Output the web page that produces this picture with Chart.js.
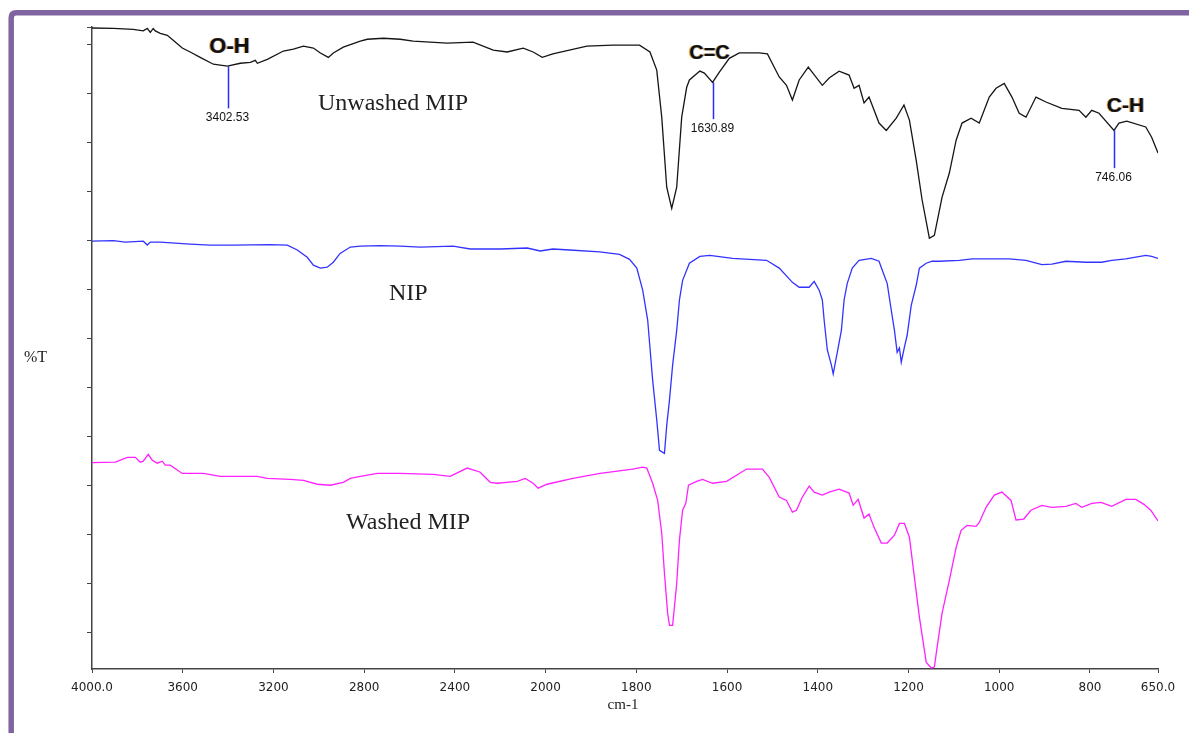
<!DOCTYPE html>
<html>
<head>
<meta charset="utf-8">
<script src="https://cdn.jsdelivr.net/npm/chart.js@4.4.1/dist/chart.umd.min.js"></script>
<style>
  html,body{margin:0;padding:0;background:#fff;}
  #wrap{width:1189px;height:733px;position:relative;}
</style>
</head>
<body>
<div id="wrap"><canvas id="c" width="1189" height="733"></canvas></div>
<script>
// ---------- DATA ----------
const xTicks = [4000, 3600, 3200, 2800, 2400, 2000, 1800, 1600, 1400, 1200, 1000, 800, 650];
const yTicks = [10, 20, 30, 40, 50, 60, 70, 80, 90, 100, 110, 120, 130, 133.5];

const seriesNames = ['Unwashed MIP', 'NIP', 'Washed MIP'];

const unwashedWn = [4000,3906,3818,3774,3756,3743,3730,3721,3699,3668,3642,3602,3567,3523,3465,3403,3346,3302,3280,3271,3227,3156,3112,3068,3024,2993,2958,2936,2892,2817,2786,2716,2641,2584,2434,2320,2231,2170,2099,2055,2015,1984,1909,1852,1793,1770,1755,1744,1733,1722,1711,1700,1689,1683,1660,1650,1632,1617,1595,1573,1529,1511,1496,1485,1469,1456,1441,1421,1390,1375,1353,1331,1320,1309,1298,1287,1265,1249,1227,1210,1198,1183,1170,1154,1143,1126,1110,1095,1082,1062,1044,1022,1007,989,972,956,941,919,897,862,824,809,796,780,747,736,719,677,664,650];
const unwashedT = [133.3,133.2,133.0,132.7,133.2,132.4,133.2,132.7,132.2,131.8,130.8,129.2,128.4,127.3,125.9,125.5,126.1,126.3,126.7,126.1,126.9,128.6,129.0,129.6,129.2,128.2,127.3,128.2,129.4,130.6,131.0,131.2,131.0,130.6,130.2,130.4,128.8,128.4,129.2,128.4,127.3,128.0,129.6,129.8,129.8,128.4,124.7,115.1,100.8,96.5,100.8,115.1,121.2,122.7,124.5,124.1,122.2,124.3,127.1,128.2,128.2,128.0,125.3,123.3,121.6,118.6,122.7,125.3,121.6,123.1,124.5,123.7,121.0,121.6,118.0,119.2,113.9,112.4,114.9,117.6,114.5,106.3,98.2,90.4,91.0,98.8,103.7,110.4,113.9,114.9,113.9,119.2,121.0,122.0,119.2,115.9,115.1,119.2,118.2,116.9,116.5,115.1,116.5,115.9,112.4,113.9,114.3,113.1,111.0,107.8];

const nipWn = [4000,3906,3853,3774,3756,3743,3699,3567,3479,3377,3214,3139,3095,3051,3024,2993,2963,2936,2906,2861,2817,2729,2641,2553,2408,2332,2200,2081,2024,1984,1947,1881,1837,1815,1799,1786,1775,1764,1755,1749,1738,1733,1727,1720,1711,1705,1698,1683,1660,1638,1588,1513,1485,1456,1441,1419,1408,1397,1390,1386,1379,1370,1366,1357,1348,1342,1335,1324,1309,1282,1265,1254,1247,1238,1231,1227,1225,1220,1216,1209,1203,1194,1183,1176,1161,1148,1132,1088,1060,978,941,906,884,853,809,774,752,721,677,664,650];
const nipT = [89.8,89.9,89.6,89.8,89.0,89.6,89.6,89.2,89.0,89.0,89.1,89.0,88.0,86.5,84.9,84.3,84.5,85.5,87.3,88.6,88.8,88.9,88.8,88.6,88.8,88.2,88.2,88.4,87.8,88.2,88.0,87.6,87.1,86.1,84.3,79.8,73.7,61.4,53.3,47.1,46.5,52.2,57.3,64.5,71.6,77.8,81.8,85.3,86.7,86.9,86.3,85.9,84.3,81.4,80.4,80.4,81.6,79.8,77.8,73.7,67.6,64.5,62.7,67.1,71.6,77.8,81.2,84.3,85.9,86.3,85.7,82.9,81.2,75.7,71.6,68.6,67.1,68.0,65.1,68.2,70.6,76.7,80.8,84.3,85.3,85.7,85.7,85.9,86.2,86.2,85.9,85.0,85.1,85.7,85.5,85.5,85.9,86.2,86.9,86.7,86.3];

const washedWn = [4000,3897,3844,3809,3787,3774,3752,3734,3712,3690,3677,3655,3624,3602,3509,3434,3346,3271,3227,3126,3068,3007,2949,2892,2861,2817,2742,2641,2496,2421,2346,2290,2244,2213,2125,2090,2055,2033,1997,1940,1880,1808,1786,1777,1764,1753,1744,1738,1731,1727,1720,1711,1705,1698,1691,1685,1667,1654,1632,1601,1557,1522,1507,1485,1469,1456,1447,1434,1419,1408,1390,1375,1353,1331,1322,1311,1298,1287,1276,1260,1247,1231,1220,1209,1198,1187,1176,1161,1150,1143,1137,1126,1110,1095,1084,1071,1051,1044,1029,1011,994,974,963,946,930,906,884,853,831,818,796,776,752,721,699,681,666,650];
const washedT = [44.6,44.7,45.7,45.7,44.7,44.9,46.3,45.1,44.5,44.9,44.1,44.1,43.1,42.4,42.4,41.8,41.8,41.8,41.4,41.2,41.0,40.2,40.0,40.6,41.4,41.8,42.4,42.4,42.2,41.8,43.5,42.7,40.6,40.4,40.8,41.4,40.4,39.4,40.2,41.4,42.4,43.3,43.7,43.5,40.4,36.9,30.2,22.0,13.9,11.4,11.4,20.0,28.8,34.9,36.3,40.0,40.8,41.2,40.4,40.8,43.3,43.3,41.6,37.6,36.9,34.5,34.9,37.6,39.8,38.6,38.0,38.6,39.2,38.4,35.9,37.1,33.3,34.1,31.4,28.2,28.2,29.8,32.2,32.2,29.4,21.2,13.1,3.9,2.7,2.9,6.9,13.9,20.6,27.3,30.8,31.8,31.6,32.4,35.5,38.0,38.6,36.9,32.9,33.1,34.9,35.9,35.5,35.7,36.3,35.5,36.3,36.5,35.7,37.1,37.1,36.1,34.9,32.7];

// marked peaks on the Unwashed MIP trace
const peakWn = [3402.53, 1630.89, 746.06];
const peakLabels = ['3402.53', '1630.89', '746.06'];
const peakGroups = ['O-H', 'C=C', 'C-H'];
const peakTop = [125.5, 122.2, 112.4];
const peakBottom = [116.9, 114.7, 104.7];

// ---------- piecewise x scale (expanded below 2000 cm-1, like FTIR software) ----------
class BreakScale extends Chart.LinearScale {
  _f(v) { return v > 2000 ? 2000 + (v - 2000) / 2 : v; }
  _fi(u) { return u > 2000 ? 2000 + (u - 2000) * 2 : u; }
  getPixelForValue(v) {
    if (v === null || v === undefined || isNaN(v)) return NaN;
    const a = this._f(this.min), b = this._f(this.max);
    return this.getPixelForDecimal((this._f(v) - a) / (b - a));
  }
  getValueForPixel(p) {
    const a = this._f(this.min), b = this._f(this.max);
    return this._fi(a + this.getDecimalForPixel(p) * (b - a));
  }
}
BreakScale.id = 'breaklinear';
BreakScale.defaults = Chart.LinearScale.defaults;
Chart.register(BreakScale);

function pts(xs, ys) { return xs.map((x, i) => ({ x: x, y: ys[i] })); }

const frame = {
  id: 'frame',
  beforeDraw(chart) {
    const ctx = chart.ctx;
    ctx.save();
    ctx.fillStyle = '#ffffff';
    ctx.fillRect(0, 0, chart.width, chart.height);
    ctx.strokeStyle = '#8064A2';
    ctx.lineWidth = 5.5;
    ctx.beginPath();
    const x0 = 11.2, y0 = 12.8, r = 5;
    ctx.moveTo(x0, chart.height + 10);
    ctx.lineTo(x0, y0 + r);
    ctx.quadraticCurveTo(x0, y0, x0 + r, y0);
    ctx.lineTo(chart.width + 10, y0);
    ctx.stroke();
    ctx.restore();
  }
};

const labels = {
  id: 'labels',
  afterDatasetsDraw(chart) {
    const ctx = chart.ctx, xs = chart.scales.x, ys = chart.scales.y;
    ctx.save();
    // axis titles
    ctx.fillStyle = '#222';
    ctx.font = '16px "Liberation Serif"';
    ctx.textAlign = 'left';
    ctx.textBaseline = 'alphabetic';
    ctx.fillText('%T', 24, 362);
    ctx.font = '15px "Liberation Serif"';
    ctx.textAlign = 'center';
    ctx.fillText('cm-1', 623, 709);
    // series names
    ctx.font = '24px "Liberation Serif"';
    ctx.textAlign = 'left';
    const namePos = [[318, 110], [389, 300], [346, 529]];
    seriesNames.forEach((n, i) => ctx.fillText(n, namePos[i][0], namePos[i][1]));
    // peak markers
    const groupDx = [1, -4, 11];
    const groupDy = [-13, -23, -18];
    const groupSize = [22, 20, 21];
    peakWn.forEach((w, i) => {
      const px = Math.round(xs.getPixelForValue(w)) + 0.5;
      const yt = ys.getPixelForValue(peakTop[i]);
      const yb = ys.getPixelForValue(peakBottom[i]);
      ctx.strokeStyle = '#2a2aff';
      ctx.lineWidth = 1.5;
      ctx.beginPath();
      ctx.moveTo(px, yt);
      ctx.lineTo(px, yb);
      ctx.stroke();
      ctx.fillStyle = '#111';
      ctx.font = '12px "Liberation Sans"';
      ctx.textAlign = 'center';
      ctx.fillText(peakLabels[i], px - 1, yb + 13);
      const tx = px + groupDx[i], ty = yt + groupDy[i];
      ctx.font = 'bold ' + groupSize[i] + 'px "Liberation Sans"';
      ctx.fillStyle = 'rgba(240,150,20,0.85)';
      ctx.fillText(peakGroups[i], tx - 1.2, ty);
      ctx.fillStyle = 'rgba(40,90,200,0.5)';
      ctx.fillText(peakGroups[i], tx + 1, ty);
      ctx.fillStyle = '#101010';
      ctx.fillText(peakGroups[i], tx, ty);
    });
    ctx.restore();
  }
};

Chart.defaults.font.family = '"DejaVu Sans", sans-serif';

new Chart(document.getElementById('c'), {
  type: 'scatter',
  data: {
    datasets: [
      { label: seriesNames[0], data: pts(unwashedWn, unwashedT), borderColor: '#151515' },
      { label: seriesNames[1], data: pts(nipWn, nipT), borderColor: '#3333ff' },
      { label: seriesNames[2], data: pts(washedWn, washedT), borderColor: '#ff22ff' }
    ].map(d => Object.assign(d, { showLine: true, pointRadius: 0, borderWidth: 1.3, tension: 0, fill: false }))
  },
  options: {
    responsive: false,
    animation: false,
    devicePixelRatio: 1,
    layout: { padding: { left: 0, right: 31, top: 27, bottom: 24 } },
    plugins: { legend: { display: false }, tooltip: { enabled: false } },
    scales: {
      x: {
        type: 'breaklinear',
        reverse: true,
        min: 650,
        max: 4000,
        afterBuildTicks: s => { s.ticks = xTicks.map(v => ({ value: v })); },
        afterFit: s => { s.height = 40; },
        ticks: {
          autoSkip: false, maxRotation: 0, padding: 8,
          color: '#222', font: { size: 12 },
          callback: v => (v === 4000 ? '4000.0' : v === 650 ? '650.0' : String(v))
        },
        grid: { display: true, drawOnChartArea: false, drawTicks: true, tickLength: 4, color: '#444', lineWidth: 1 },
        border: { display: true, color: '#444', width: 1.5 }
      },
      y: {
        min: 2.5,
        max: 133.5,
        afterBuildTicks: s => { s.ticks = yTicks.map(v => ({ value: v })); },
        afterFit: s => { s.width = 92; },
        ticks: { display: false },
        grid: { display: true, drawOnChartArea: false, drawTicks: true, tickLength: 5, color: '#444', lineWidth: 1 },
        border: { display: true, color: '#444', width: 1.5 }
      }
    }
  },
  plugins: [frame, labels]
});
</script>
</body>
</html>
